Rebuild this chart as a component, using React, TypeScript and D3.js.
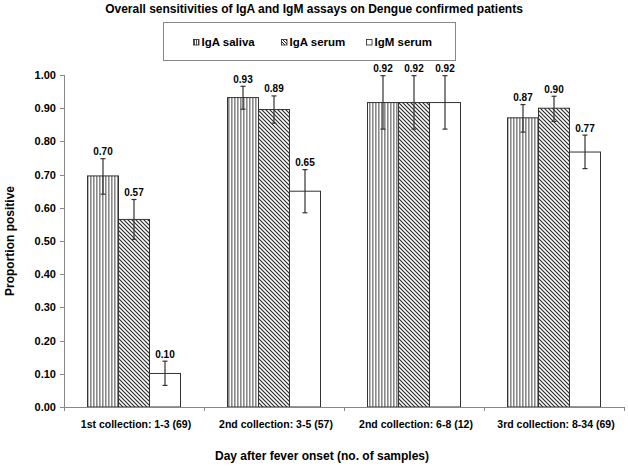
import React from "react";
import * as d3 from "d3";

const categories = [
  "1st collection: 1-3 (69)",
  "2nd collection: 3-5 (57)",
  "2nd collection: 6-8 (12)",
  "3rd collection: 8-34 (69)",
];
const seriesNames = ["IgA saliva", "IgA serum", "IgM serum"];
const igaSaliva = [0.696, 0.932, 0.917, 0.871];
const igaSerum = [0.565, 0.896, 0.917, 0.9];
const igmSerum = [0.101, 0.65, 0.917, 0.768];
const labelsSaliva = ["0.70", "0.93", "0.92", "0.87"];
const labelsSerum = ["0.57", "0.89", "0.92", "0.90"];
const labelsIgm = ["0.10", "0.65", "0.92", "0.77"];
const errLowSaliva = [0.641, 0.897, 0.837, 0.828];
const errHighSaliva = [0.748, 0.966, 0.998, 0.911];
const errLowSerum = [0.505, 0.855, 0.837, 0.86];
const errHighSerum = [0.625, 0.937, 0.998, 0.936];
const errLowIgm = [0.065, 0.585, 0.837, 0.718];
const errHighIgm = [0.138, 0.715, 0.998, 0.819];
const yTicks = [0, 0.1, 0.2, 0.3, 0.4, 0.5, 0.6, 0.7, 0.8, 0.9, 1.0];

const W = 628;
const H = 466;
const left = 64;
const right = 624;
const top = 75;
const bottom = 407;
const FONT = "'Liberation Sans', Arial, sans-serif";

export default function App() {
  const x0 = d3.scaleBand<string>().domain(categories).range([left, right]).paddingInner(0).paddingOuter(0);
  const x1 = d3
    .scaleBand<string>()
    .domain(seriesNames)
    .range([0, x0.bandwidth()])
    .paddingOuter(0.758)
    .paddingInner(0);
  const y = d3.scaleLinear().domain([0, 1]).range([bottom, top]);

  const series = [
    { name: seriesNames[0], vals: igaSaliva, labels: labelsSaliva, lo: errLowSaliva, hi: errHighSaliva, fill: "url(#pVert)" },
    { name: seriesNames[1], vals: igaSerum, labels: labelsSerum, lo: errLowSerum, hi: errHighSerum, fill: "url(#pDiag)" },
    { name: seriesNames[2], vals: igmSerum, labels: labelsIgm, lo: errLowIgm, hi: errHighIgm, fill: "#ffffff" },
  ];

  const legendItems = [
    { x: 193.5, fill: "url(#pVertS)" },
    { x: 281.5, fill: "url(#pDiagS)" },
    { x: 366.5, fill: "#ffffff" },
  ];

  return (
    <svg width={W} height={H} style={{ display: "block", position: "absolute", left: 0, top: 0 }} fontFamily={FONT}>
      <defs>
        <pattern id="pVert" patternUnits="userSpaceOnUse" width={3} height={4}>
          <rect width={3} height={4} fill="#ffffff" />
          <rect x={0} width={1.6} height={4} fill="#8a8a8a" />
        </pattern>
        <pattern id="pDiag" patternUnits="userSpaceOnUse" width={4} height={4}>
          <rect width={4} height={4} fill="#ffffff" />
          <path d="M-1,-1 L5,5 M-1,3 L1,5 M3,-1 L5,1" stroke="#2a2a2a" strokeWidth={1.2} />
        </pattern>
        <pattern id="pVertS" patternUnits="userSpaceOnUse" width={2} height={2}>
          <rect width={2} height={2} fill="#ffffff" />
          <rect x={0} width={1} height={2} fill="#555" />
        </pattern>
        <pattern id="pDiagS" patternUnits="userSpaceOnUse" width={3} height={3}>
          <rect width={3} height={3} fill="#ffffff" />
          <path d="M-1,-1 L4,4 M-1,2 L1,4 M2,-1 L4,1" stroke="#222" strokeWidth={1} />
        </pattern>
      </defs>
      <rect width={W} height={H} fill="#ffffff" />

      {/* Title */}
      <text x={314} y={13} textAnchor="middle" fontSize={12} fontWeight="bold" fill="#000">
        Overall sensitivities of IgA and IgM assays on Dengue confirmed patients
      </text>

      {/* Legend */}
      <rect x={163.5} y={22.5} width={292} height={38} fill="#fff" stroke="#888" strokeWidth={1} />
      {legendItems.map((it, i) => (
        <g key={i}>
          <rect x={it.x} y={39.5} width={5.5} height={5.5} fill={it.fill} stroke="#222" strokeWidth={0.8} />
          <text x={it.x + 8} y={46} fontSize={11.5} fontWeight="bold" fill="#000">
            {seriesNames[i]}
          </text>
        </g>
      ))}

      {/* Y axis */}
      <line x1={left + 0.5} x2={left + 0.5} y1={top} y2={bottom} stroke="#888" />
      {yTicks.map((t) => (
        <g key={t}>
          <line x1={left - 4} x2={left} y1={Math.round(y(t)) + 0.5} y2={Math.round(y(t)) + 0.5} stroke="#888" />
          <text x={56} y={y(t) + 4} textAnchor="end" fontSize={11} fontWeight="bold" fill="#000">
            {t.toFixed(2)}
          </text>
        </g>
      ))}
      <text
        transform={`translate(14,${(top + bottom) / 2}) rotate(-90)`}
        textAnchor="middle"
        fontSize={12}
        fontWeight="bold"
        fill="#000"
      >
        Proportion positive
      </text>

      {/* Bars */}
      {categories.map((c, ci) => (
        <g key={c}>
          {series.map((s) => {
            const bx = (x0(c) as number) + (x1(s.name) as number);
            const bw = x1.bandwidth();
            const cx = bx + bw / 2;
            return (
              <g key={s.name}>
                <rect
                  x={bx}
                  y={y(s.vals[ci])}
                  width={bw}
                  height={y(0) - y(s.vals[ci])}
                  fill={s.fill}
                  stroke="#333"
                  strokeWidth={1}
                />
                <line x1={cx} x2={cx} y1={y(s.hi[ci])} y2={y(s.lo[ci])} stroke="#333" strokeWidth={1.2} />
                <line x1={cx - 2.5} x2={cx + 2.5} y1={y(s.hi[ci])} y2={y(s.hi[ci])} stroke="#333" strokeWidth={1.2} />
                <line x1={cx - 2.5} x2={cx + 2.5} y1={y(s.lo[ci])} y2={y(s.lo[ci])} stroke="#333" strokeWidth={1.2} />
                <text x={cx} y={y(s.hi[ci]) - 3.5} textAnchor="middle" fontSize={10} fontWeight="bold" fill="#000">
                  {s.labels[ci]}
                </text>
              </g>
            );
          })}
        </g>
      ))}

      {/* X axis */}
      <line x1={left} x2={right} y1={bottom + 0.5} y2={bottom + 0.5} stroke="#888" />
      {[...categories.map((c) => x0(c) as number), right].map((tx, i) => (
        <line key={i} x1={tx + 0.5} x2={tx + 0.5} y1={bottom} y2={bottom + 4} stroke="#888" />
      ))}
      {categories.map((c) => (
        <text
          key={c}
          x={(x0(c) as number) + x0.bandwidth() / 2 + 2}
          y={428}
          textAnchor="middle"
          fontSize={10.5}
          fontWeight="bold"
          fill="#000"
        >
          {c}
        </text>
      ))}
      <text x={322} y={460} textAnchor="middle" fontSize={12} fontWeight="bold" fill="#000">
        Day after fever onset (no. of samples)
      </text>
    </svg>
  );
}
